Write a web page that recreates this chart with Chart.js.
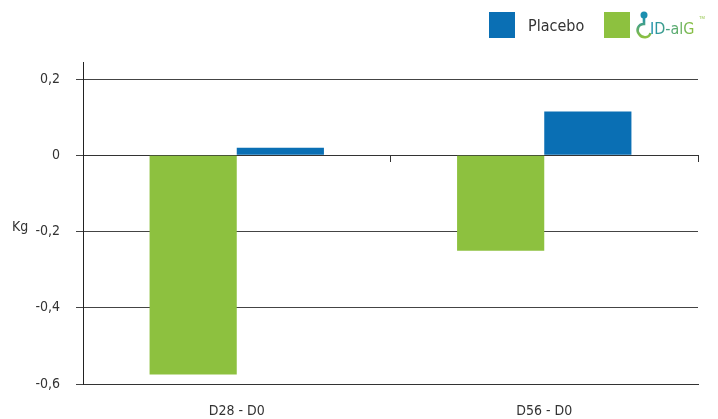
<!DOCTYPE html>
<html>
<head>
<meta charset="utf-8">
<script src="https://cdn.jsdelivr.net/npm/chart.js@4"></script>
<style>
  html, body { margin: 0; padding: 0; background: #fff; }
  #wrap { position: relative; width: 718px; height: 419px; }
  #legend { position: absolute; top: 12px; left: 489px; height: 26px; display: flex; align-items: center;
            font-family: 'DejaVu Sans Condensed', 'Roboto', sans-serif; font-size: 16px; color: #333; }
  .box { width: 26px; height: 26px; display: inline-block; }
</style>
</head>
<body>
<div id="wrap">
  <canvas id="weight" width="718" height="419"></canvas>
  <div id="legend">
    <span class="box" style="background:#0a6fb4"></span>
    <span style="margin-left:13px;margin-right:20px">Placebo</span>
    <span class="box" style="background:#8dc13f"></span>
    <svg width="72" height="30" viewBox="0 0 72 30" style="margin-left:4px">
      <defs>
        <linearGradient id="lg" x1="0" y1="0" x2="1" y2="0">
          <stop offset="0" stop-color="#1b8fb0"/>
          <stop offset="1" stop-color="#8dc13f"/>
        </linearGradient>
        <linearGradient id="lg2" x1="0" y1="0" x2="0" y2="1">
          <stop offset="0" stop-color="#1b8fb0"/>
          <stop offset="1" stop-color="#8dc13f"/>
        </linearGradient>
      </defs>
      <circle cx="10" cy="5" r="3.5" fill="#1b8fb0"/>
      <path d="M10 7 L10 14 C4 14 2 20 5 24 C8 28.5 15 28.5 16.5 23" stroke="url(#lg2)" stroke-width="2.6" fill="none"/>
      <text x="16" y="24" font-family="DejaVu Sans Condensed, Roboto, sans-serif" font-size="16" fill="url(#lg)">ID-alG</text>
      <text x="65" y="9" font-family="sans-serif" font-size="4" fill="#8dc13f">TM</text>
    </svg>
  </div>
</div>
<script>
const categories = ['D28 - D0', 'D56 - D0'];
const placebo = [0.02, 0.115];
const idalg = [-0.575, -0.25];
const yTicks = [-0.6, -0.4, -0.2, 0, 0.2];

const FONT = "'DejaVu Sans Condensed', 'Roboto', sans-serif";

// unit label sitting left of the -0,2 tick
const unitLabel = {
    id: 'unitLabel',
    afterDraw(chart) {
        const ctx = chart.ctx;
        const y = chart.scales.y.getPixelForValue(-0.2);
        ctx.save();
        ctx.font = '14px ' + FONT;
        ctx.fillStyle = '#333';
        ctx.textBaseline = 'middle';
        ctx.fillText('Kg', 12, y - 4);
        ctx.restore();
    }
};

new Chart(document.getElementById('weight').getContext('2d'), {
    type: 'bar',
    data: {
        labels: categories,
        datasets: [
            { label: 'ID-alG', data: idalg, backgroundColor: '#8dc13f', borderWidth: 0 },
            { label: 'Placebo', data: placebo, backgroundColor: '#0a6fb4', borderWidth: 0 }
        ]
    },
    options: {
        responsive: false,
        animation: false,
        layout: { padding: { top: 62, right: 20, left: 0, bottom: 0 } },
        datasets: { bar: { categoryPercentage: 0.567, barPercentage: 1 } },
        plugins: { legend: { display: false }, tooltip: { enabled: false } },
        scales: {
            x: {
                grid: { display: false },
                border: { display: true, color: '#333', width: 1 },
                ticks: { color: '#333', font: { family: FONT, size: 14 }, padding: 11 },
                afterFit(s) { s.height = 35; }
            },
            x2: {
                type: 'category',
                position: { y: 0 },
                offset: true,
                grid: { offset: true, drawOnChartArea: false, drawTicks: true, tickLength: 6, color: '#333' },
                border: { display: true, color: '#333', width: 1 },
                ticks: { display: false }
            },
            y: {
                min: -0.6,
                max: 0.245,
                afterBuildTicks(s) { s.ticks = yTicks.map(v => ({ value: v })); },
                grid: { color: '#444', tickLength: 7, drawTicks: true },
                border: { display: true, color: '#222', width: 1 },
                ticks: {
                    color: '#333',
                    padding: 16,
                    font: { family: FONT, size: 14 },
                    callback: v => String(v).replace('.', ',')
                },
                afterFit(s) { s.width = 83; }
            }
        }
    },
    plugins: [unitLabel]
});
</script>
</body>
</html>
